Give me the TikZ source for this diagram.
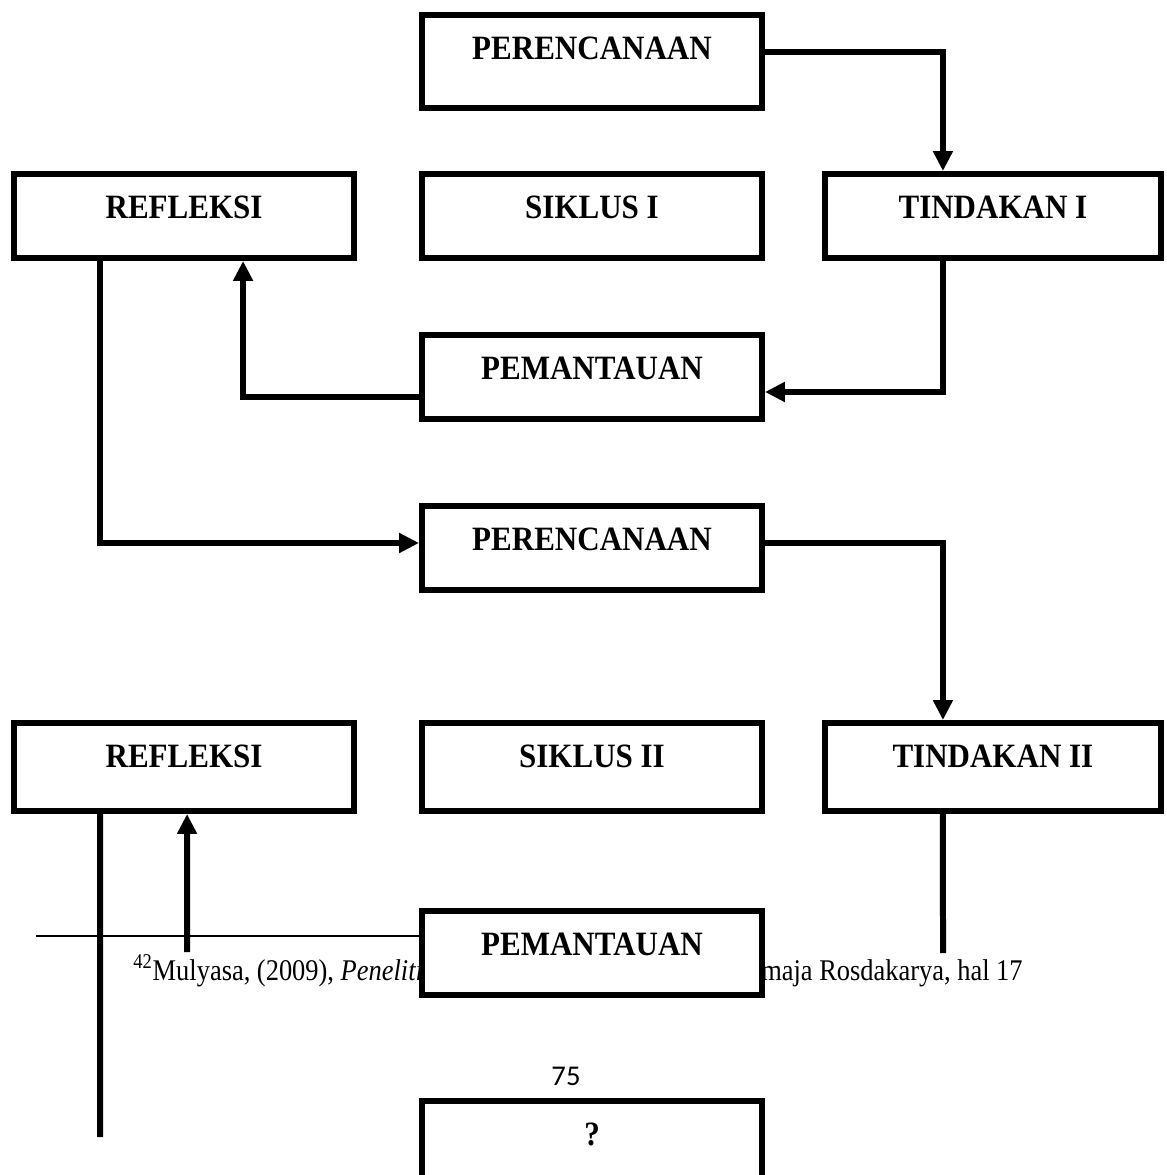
\documentclass[tikz,border=0pt]{standalone}
\usepackage{fontspec}
\setmainfont{Liberation Serif}
\newfontfamily\boxfont{Liberation Serif}[FakeStretch=0.91]
\newfontfamily\notefont{Liberation Serif}[FakeStretch=0.88]
\newfontfamily\pagenumfont{Carlito}
\usepackage{tikz}
\usetikzlibrary{arrows.meta,positioning}

\begin{document}
\begin{tikzpicture}[
    x=0.02cm, y=-0.02cm,
    box/.style={draw, rectangle, line width=0.12cm, fill=white, minimum width=6.8cm, inner ysep=0pt, text height=0.89cm, text depth=0.79cm, font=\boxfont\fontsize{19.4}{22}\selectfont\bfseries},
    tallbox/.style={box, text depth=0.97cm},
    rowbox/.style={box, text depth=0.87cm},
    footnote/.style={font=\notefont\fontsize{17.1}{20}\selectfont, inner sep=0pt},
    arrow/.style={-{Triangle[length=0.4cm,width=0.38cm]}, line width=0.12cm},
    link/.style={line width=0.12cm},
    node distance=1.24cm
]

\path[use as bounding box, fill=white] (0,0) rectangle (1166,1175);
\clip (0,0) rectangle (1166,1175);

% footnote of the page
\draw[line width=0.03cm] (36,936) -- (419,936);
\node[footnote, anchor=base west] (noteleft) at (133,980) {\textsuperscript{42}Mulyasa, (2009), \textit{Peneliti}};
\node[footnote, anchor=base east] (noteright) at (1023,980) {maja Rosdakarya, hal 17};
\node[font=\pagenumfont\fontsize{16.3}{18}\selectfont] (pagenum) at (566,1076) {75};

% siklus I
\node[tallbox, anchor=north] (p1) at (592,12) {PERENCANAAN};
\node[box, anchor=north] (s1) at (592,171) {SIKLUS I};
\node[box, left=of s1] (r1) {REFLEKSI};
\node[box, minimum width=6.72cm, right=1.14cm of s1] (t1) {TINDAKAN I};
\node[box, anchor=north] (pem1) at (592,332) {PEMANTAUAN};

% siklus II
\node[box, anchor=north] (p2) at (592,503) {PERENCANAAN};
\node[rowbox, anchor=north] (s2) at (592,720) {SIKLUS II};
\node[rowbox, left=of s2] (r2) {REFLEKSI};
\node[rowbox, minimum width=6.72cm, right=1.14cm of s2] (t2) {TINDAKAN II};
\node[box, anchor=north] (pem2) at (592,908) {PEMANTAUAN};
\node[box, text depth=1.3cm, anchor=north] (q) at (592,1098) {?};

\coordinate (t2end) at (943,953);
\coordinate (r2in) at (187,952);
\coordinate (r2out) at (100,1137);

\draw[arrow] ([yshift=0.19cm]p1.east) -| ([xshift=-1cm]t1.north);
\draw[arrow] ([xshift=-1cm]t1.south) |- ([yshift=-0.3cm]pem1.east);
\draw[arrow] ([yshift=-0.4cm]pem1.west) -| ([xshift=1.18cm]r1.south);
\draw[arrow] ([xshift=-1.68cm]r1.south) |- ([yshift=0.1cm]p2.west);
\draw[arrow] ([yshift=0.1cm]p2.east) -| ([xshift=-1cm]t2.north);
\draw[link] ([xshift=-1cm]t2.south) -- (t2end);
\draw[arrow] (r2in) -- ([xshift=0.06cm]r2.south);
\draw[link] ([xshift=-1.68cm]r2.south) -- (r2out);

\end{tikzpicture}
\end{document}
